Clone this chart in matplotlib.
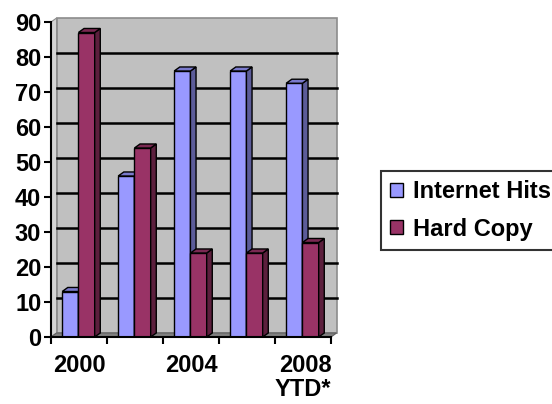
import numpy as np
import matplotlib.pyplot as plt
from matplotlib.patches import Polygon, Patch

plt.rcParams['font.family'] = ['Liberation Sans', 'DejaVu Sans']
plt.rcParams['font.weight'] = 'bold'

years = ['2000', '', '2004', '', '2008\nYTD*']
internet_hits = [13, 46, 76, 76, 72.5]
hard_copy = [87, 54, 24, 24, 27]

fig = plt.figure(figsize=(5.52, 4.04), dpi=100)
ax = fig.add_axes([51 / 552, 67 / 404, 280 / 552, 315 / 404])
ax.set_xlim(0, 5)
ax.set_ylim(0, 90)

dx, dy = 0.1, 1.15   # depth offset in data units
w = 0.29

def poly(pts, fc, z, lw=1.0, ec='black'):
    ax.add_patch(Polygon(pts, closed=True, facecolor=fc, edgecolor=ec,
                         linewidth=lw, zorder=z, clip_on=False))

# walls and floor
poly([(dx, dy), (5 + dx, dy), (5 + dx, 90 + dy), (dx, 90 + dy)], '#c0c0c0', 0,
     lw=1.2, ec='#8c8c8c')
poly([(0, 0), (dx, dy), (dx, 90 + dy), (0, 90)], '#d4d4d4', 0, lw=0.8, ec='#8c8c8c')
poly([(0, 0), (5, 0), (5 + dx, dy), (dx, dy)], '#808080', 1, lw=0.8, ec='#606060')
for g in range(10, 90, 10):
    ax.plot([dx, 5 + dx], [g + dy, g + dy], color='black', lw=1.8, zorder=1,
            clip_on=False)

def bar3d(x0, h, front, side, top):
    ax.bar(x0, h, w, align='edge', color=front, edgecolor='black', lw=1.0, zorder=3)
    poly([(x0 + w, 0), (x0 + w + dx, dy), (x0 + w + dx, h + dy), (x0 + w, h)], side, 3)
    poly([(x0, h), (x0 + dx, h + dy), (x0 + w + dx, h + dy), (x0 + w, h)], top, 3)

for i in range(len(years)):
    bar3d(i + 0.2, internet_hits[i], '#9999ff', '#5c5c99', '#7a7acc')
    bar3d(i + 0.2 + w, hard_copy[i], '#993366', '#5c1f3d', '#7a2952')

for s in ['top', 'right']:
    ax.spines[s].set_visible(False)
for s in ['left', 'bottom']:
    ax.spines[s].set_linewidth(1.5)
    ax.spines[s].set_zorder(5)

ax.set_yticks(np.arange(0, 91, 10))
ax.set_xticks(np.arange(0, 6))
ax.set_xticklabels([])
ax.set_xticks(np.arange(len(years)) + 0.5, minor=True)
ax.set_xticklabels(years, minor=True, multialignment='right', linespacing=1.05)
ax.tick_params(axis='x', which='minor', length=0, pad=12)
ax.tick_params(axis='both', which='major', direction='out', length=5, width=1.5,
               labelsize=17)
ax.tick_params(axis='x', which='minor', labelsize=17)
ax.tick_params(axis='y', pad=2)

handles = [Patch(facecolor='#9999ff', edgecolor='black', label='Internet Hits'),
           Patch(facecolor='#993366', edgecolor='black', label='Hard Copy')]
leg = fig.legend(handles=handles, loc='upper left', bbox_to_anchor=(381 / 552, 1 - 171 / 404),
                 frameon=True, fancybox=False, edgecolor='black', fontsize=17,
                 handlelength=0.55, handleheight=0.55, handletextpad=0.4,
                 borderpad=0.4, labelspacing=0.6, borderaxespad=0)
leg.get_frame().set_linewidth(1.5)

fig.savefig('out.png', dpi=100)
